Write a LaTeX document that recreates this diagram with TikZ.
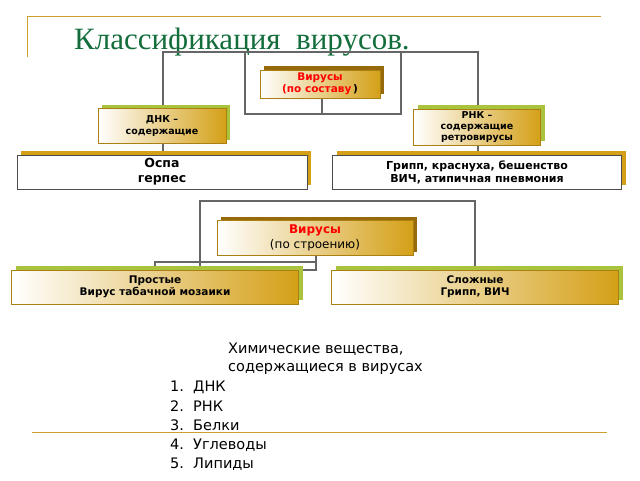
\documentclass[tikz,border=0pt]{standalone}
\usepackage{fontspec}
\setmainfont{DejaVu Sans}
\newfontfamily\titlefont{Liberation Serif}
\usetikzlibrary{positioning, shadows, calc}
\definecolor{goldBox}{RGB}{212, 160, 23}
\definecolor{darkGold}{RGB}{150, 105, 10}
\definecolor{greenShadow}{RGB}{170, 195, 60}
\definecolor{titleGreen}{RGB}{20, 110, 60}
\definecolor{lineGold}{RGB}{205, 160, 40}
\tikzset{
    box/.style={draw=goldBox!80!black, line width=0.6pt, left color=white, right color=goldBox,
        align=center, inner sep=1pt, font=\fontsize{10.5}{12}\selectfont\bfseries},
    gshadow/.style={copy shadow={shadow xshift=4pt, shadow yshift=4pt, fill=greenShadow, draw=none}},
    dshadow/.style={copy shadow={shadow xshift=4pt, shadow yshift=4pt, fill=darkGold, draw=none}},
    plainbox/.style={draw=black!70, line width=0.6pt, fill=white, align=center, inner sep=1pt,
        font=\fontsize{11}{13}\selectfont\bfseries,
        copy shadow={shadow xshift=4pt, shadow yshift=4pt, fill=goldBox, draw=none}},
    conn/.style={draw=black!60, line width=1.5pt}
}
\begin{document}
\begin{tikzpicture}[x=1pt, y=-1pt]
    \useasboundingbox (0,0) rectangle (640,480);
    % rahmen
    \draw[lineGold, line width=1pt] (27,57) -- (27,16) -- (601,16);
    \draw[lineGold, line width=1pt] (32,432) -- (607,432);
    \node[font=\titlefont\fontsize{31}{33}\selectfont, text=titleGreen, anchor=west, inner sep=0] (title) at (74,42) {Классификация\ \ вирусов.};

    % verbindungen oben
    \coordinate (tl) at (163,52);
    \coordinate (tr) at (478,52);
    \draw[conn] (163,155) -- (tl) -- (tr) -- (478,155);
    \draw[conn] (245,52) -- (245,114) -- (401,114) -- (401,52);
    \draw[conn] (322,98) -- (322,114);

    % boxen oben
    \node[box, dshadow, minimum width=120, minimum height=28] (comp) at (320,84)
        {\textcolor{red}{Вирусы}\\\textcolor{red}{(по составу}\,)};
    \node[box, gshadow, minimum width=128, minimum height=35, font=\fontsize{9.5}{11.5}\selectfont\bfseries] (dna) at (162,126) {ДНК –\\содержащие};
    \node[box, gshadow, minimum width=127, minimum height=36, font=\fontsize{9.5}{11}\selectfont\bfseries] (rna) at (477,127)
        {РНК –\\содержащие\\ретровирусы};
    \node[plainbox, minimum width=290, minimum height=34, font=\fontsize{12.5}{15}\selectfont\bfseries] (pox) at (162,172) {Оспа\\герпес};
    \node[plainbox, minimum width=289, minimum height=34] (flu) at (477,172)
        {Грипп, краснуха, бешенство\\ВИЧ, атипичная пневмония};

    % verbindungen unten
    \draw[conn] (200,270) -- (200,201) -- (475,201) -- (475,270);
    \draw[conn] (155,270) -- (155,262) -- (316,262);
    \draw[conn] (316,255) -- (316,270) -- (200,270);

    % boxen unten
    \node[box, dshadow, minimum width=196, minimum height=35, font=\fontsize{12}{15}\selectfont] (struct) at (315,238)
        {\textcolor{red}{\bfseries Вирусы}\\\mdseries(по строению)};
    \node[box, gshadow, minimum width=287, minimum height=34] (simple) at (155,287) {Простые\\Вирус табачной мозаики};
    \node[box, gshadow, minimum width=287, minimum height=34] (complex) at (475,287) {Сложные\\Грипп, ВИЧ};

    % liste
    \node[anchor=north west, align=left, font=\fontsize{14.5}{18}\selectfont, inner sep=0] (chem) at (228,343)
        {Химические вещества,\\содержащиеся в вирусах};
    \node[anchor=north west, align=left, font=\fontsize{14.5}{19.3}\selectfont, inner sep=0] (list) at (170,381)
        {1.\ \ ДНК\\2.\ \ РНК\\3.\ \ Белки\\4.\ \ Углеводы\\5.\ \ Липиды};
\end{tikzpicture}
\end{document}
